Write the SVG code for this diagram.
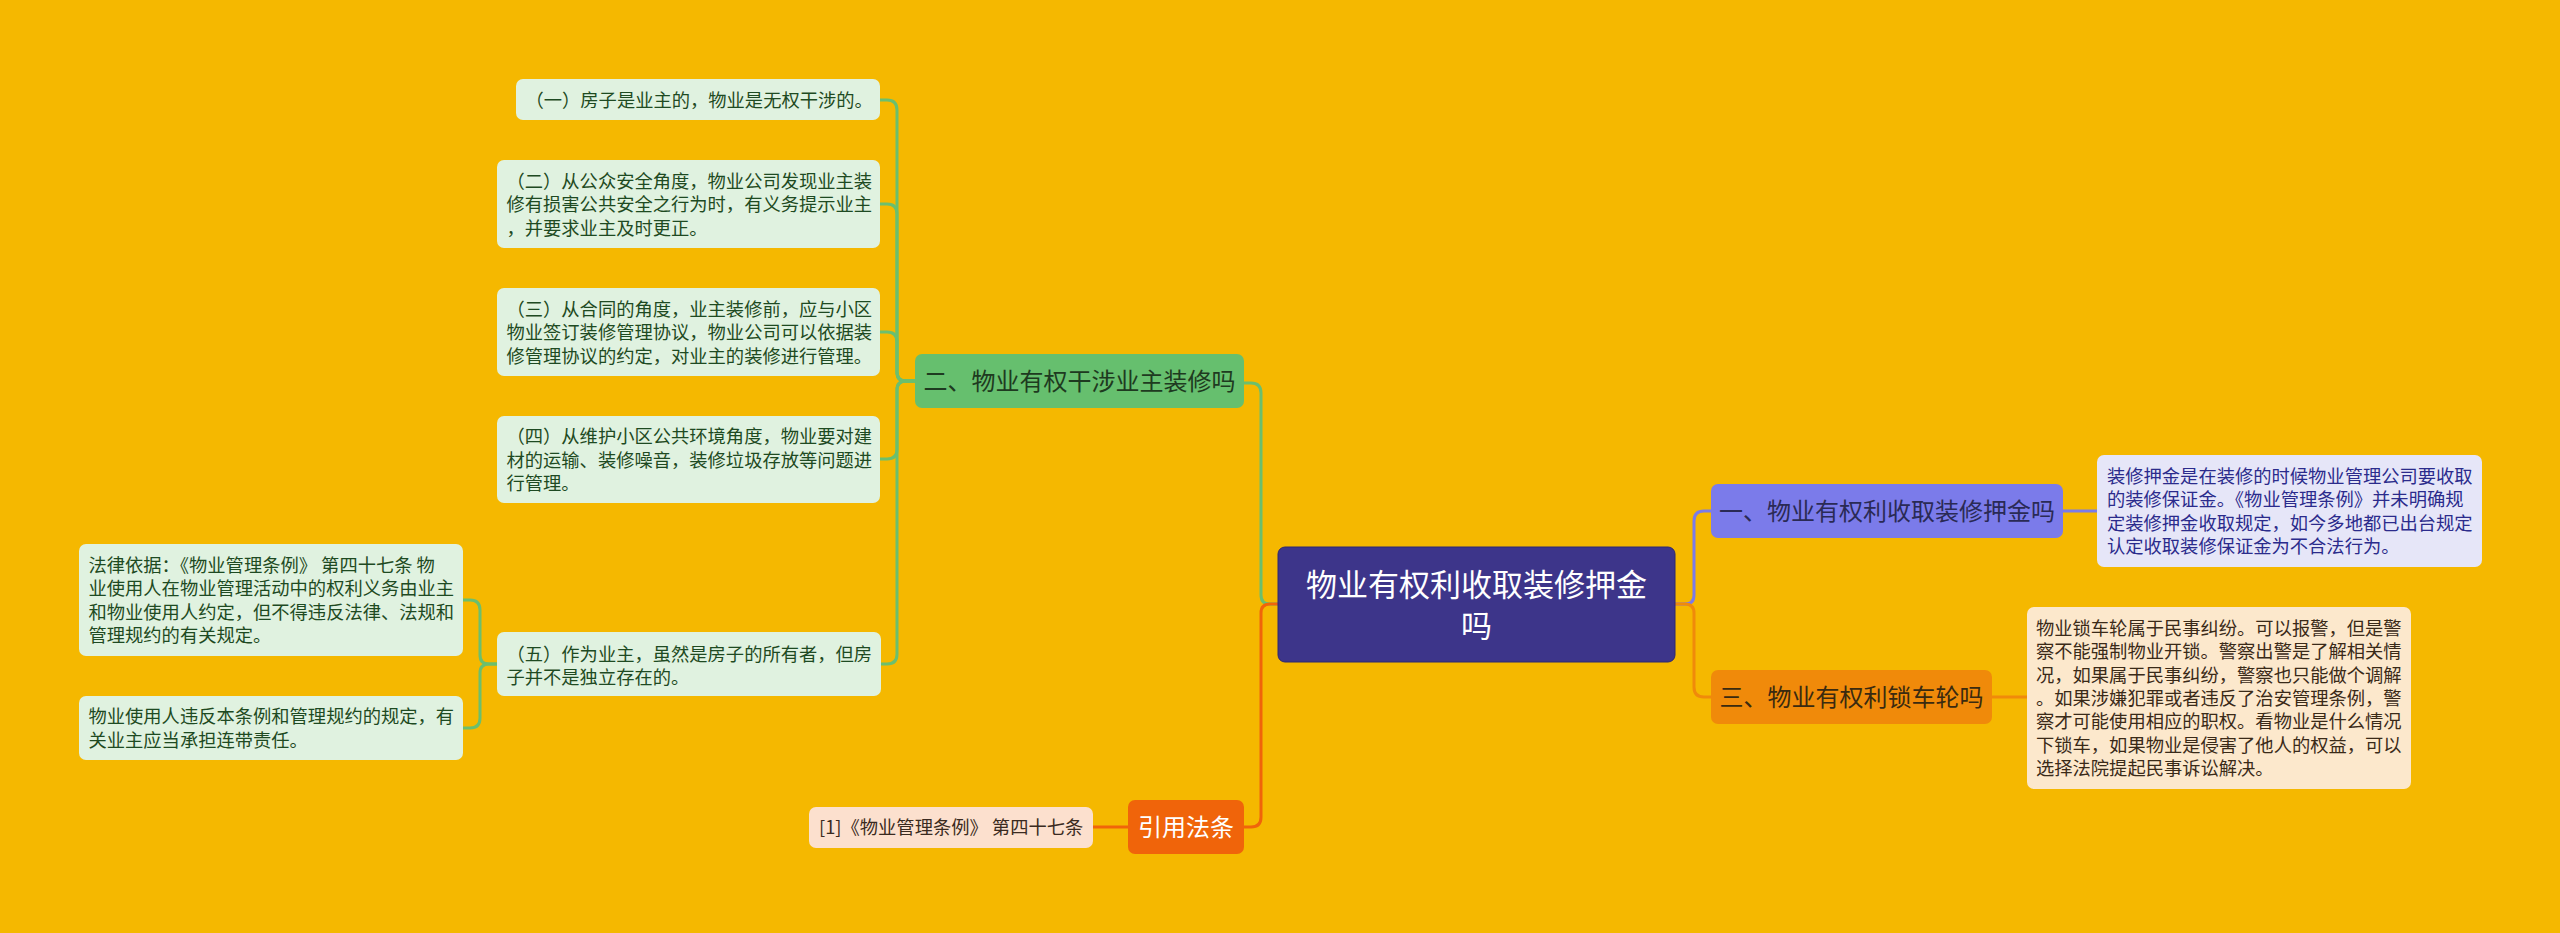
<svg xmlns="http://www.w3.org/2000/svg" width="2560" height="933" viewBox="0 0 2560 933">
<style>
text{font-family:"Noto Sans CJK SC","Noto Sans",sans-serif}
.leaf{font-size:18.3px}
.mid{font-size:24px;text-anchor:middle}
.con{fill:none;stroke-width:3;stroke-linecap:round}
.g{stroke:#6BBF6E}
.p{stroke:#7B7BE8}
.o{stroke:#F08A0A}
.r{stroke:#F0640A}
.gl{fill:#E0F2E0}
.gt{fill:#1E4A22}
</style>
<rect width="2560" height="933" fill="#F5B800"/>
<g id="connectors">
<path class="con g" d="M1278 604 H1270 Q1261 604 1261 595 V393 Q1261 383 1251 383 H1244"/>
<path class="con r" d="M1278 604 H1270 Q1261 604 1261 613 V817 Q1261 827 1251 827 H1244"/>
<path class="con p" d="M1675 604 H1685 Q1694 604 1694 595 V521 Q1694 511 1704 511 H1711"/>
<path class="con o" d="M1675 604 H1685 Q1694 604 1694 613 V687 Q1694 697 1704 697 H1711"/>
<path class="con p" d="M2063 511 H2097"/>
<path class="con o" d="M1992 697 H2027"/>
<path class="con r" d="M1128 827 H1093"/>
<path class="con g" d="M915 381 H906 Q897 381 897 372 V110 Q897 100 887 100 H880"/>
<path class="con g" d="M915 381 H906 Q897 381 897 372 V214 Q897 204 887 204 H880"/>
<path class="con g" d="M915 381 H906 Q897 381 897 372 V342 Q897 332 887 332 H880"/>
<path class="con g" d="M915 381 H906 Q897 381 897 390 V449 Q897 459 887 459 H880"/>
<path class="con g" d="M915 381 H906 Q897 381 897 390 V654 Q897 664 887 664 H880"/>
<path class="con g" d="M497 664 H489 Q480 664 480 655 V610 Q480 600 470 600 H463"/>
<path class="con g" d="M497 664 H489 Q480 664 480 673 V718 Q480 728 470 728 H463"/>
</g>
<g id="root">
<rect x="1278" y="547" width="397" height="115" rx="7" fill="#3D358A" stroke="#2E2870" stroke-width="1"/>
<text x="1476.5" y="596" font-size="31" fill="#FFFFFF" text-anchor="middle">物业有权利收取装修押金</text>
<text x="1476.5" y="637" font-size="31" fill="#FFFFFF" text-anchor="middle">吗</text>
</g>
<g id="n1">
<rect x="1711" y="484" width="352" height="54" rx="7" fill="#7B7BEA"/>
<text class="mid" x="1887" y="520" fill="#2A2A55">一、物业有权利收取装修押金吗</text>
</g>
<g id="n1-leaf">
<rect x="2097" y="455" width="385" height="112" rx="7" fill="#E6E6F8"/>
<text class="leaf" fill="#2B2B8C" x="2107" y="483">装修押金是在装修的时候物业管理公司要收取</text>
<text class="leaf" fill="#2B2B8C" x="2107" y="506.3">的装修保证金。《物业管理条例》并未明确规</text>
<text class="leaf" fill="#2B2B8C" x="2107" y="529.7">定装修押金收取规定，如今多地都已出台规定</text>
<text class="leaf" fill="#2B2B8C" x="2107" y="553">认定收取装修保证金为不合法行为。</text>
</g>
<g id="n3">
<rect x="1711" y="670" width="281" height="54" rx="7" fill="#F08A0A"/>
<text class="mid" x="1851.5" y="706" fill="#3A2A10">三、物业有权利锁车轮吗</text>
</g>
<g id="n3-leaf">
<rect x="2027" y="607" width="384" height="182" rx="7" fill="#FCE8CC"/>
<text class="leaf" fill="#3A2A18" x="2036" y="635.1">物业锁车轮属于民事纠纷。可以报警，但是警</text>
<text class="leaf" fill="#3A2A18" x="2036" y="658.4">察不能强制物业开锁。警察出警是了解相关情</text>
<text class="leaf" fill="#3A2A18" x="2036" y="681.7">况，如果属于民事纠纷，警察也只能做个调解</text>
<text class="leaf" fill="#3A2A18" x="2036" y="705">。如果涉嫌犯罪或者违反了治安管理条例，警</text>
<text class="leaf" fill="#3A2A18" x="2036" y="728.3">察才可能使用相应的职权。看物业是什么情况</text>
<text class="leaf" fill="#3A2A18" x="2036" y="751.6">下锁车，如果物业是侵害了他人的权益，可以</text>
<text class="leaf" fill="#3A2A18" x="2036" y="774.9">选择法院提起民事诉讼解决。</text>
</g>
<g id="n2">
<rect x="915" y="354" width="329" height="54" rx="7" fill="#66BF6E"/>
<text class="mid" x="1079.5" y="390" fill="#1E3A20">二、物业有权干涉业主装修吗</text>
</g>
<g id="n2-1">
<rect class="gl" x="516" y="79" width="364" height="41" rx="7"/>
<text class="leaf gt" x="525.5" y="107">（一）房子是业主的，物业是无权干涉的。</text>
</g>
<g id="n2-2">
<rect class="gl" x="497" y="160" width="383" height="88" rx="7"/>
<text class="leaf gt" x="506.5" y="187.5">（二）从公众安全角度，物业公司发现业主装</text>
<text class="leaf gt" x="506.5" y="211">修有损害公共安全之行为时，有义务提示业主</text>
<text class="leaf gt" x="506.5" y="234.5">，并要求业主及时更正。</text>
</g>
<g id="n2-3">
<rect class="gl" x="497" y="288" width="383" height="88" rx="7"/>
<text class="leaf gt" x="506.5" y="315.5">（三）从合同的角度，业主装修前，应与小区</text>
<text class="leaf gt" x="506.5" y="339">物业签订装修管理协议，物业公司可以依据装</text>
<text class="leaf gt" x="506.5" y="362.5">修管理协议的约定，对业主的装修进行管理。</text>
</g>
<g id="n2-4">
<rect class="gl" x="497" y="416" width="383" height="87" rx="7"/>
<text class="leaf gt" x="506.5" y="443">（四）从维护小区公共环境角度，物业要对建</text>
<text class="leaf gt" x="506.5" y="466.5">材的运输、装修噪音，装修垃圾存放等问题进</text>
<text class="leaf gt" x="506.5" y="490">行管理。</text>
</g>
<g id="n2-5">
<rect class="gl" x="497" y="632" width="384" height="64" rx="7"/>
<text class="leaf gt" x="506.5" y="661">（五）作为业主，虽然是房子的所有者，但房</text>
<text class="leaf gt" x="506.5" y="684">子并不是独立存在的。</text>
</g>
<g id="n2-5-a">
<rect class="gl" x="79" y="544" width="384" height="112" rx="7"/>
<text class="leaf gt" x="88.5" y="572">法律依据：《物业管理条例》 第四十七条 物</text>
<text class="leaf gt" x="88.5" y="595.3">业使用人在物业管理活动中的权利义务由业主</text>
<text class="leaf gt" x="88.5" y="618.7">和物业使用人约定，但不得违反法律、法规和</text>
<text class="leaf gt" x="88.5" y="642">管理规约的有关规定。</text>
</g>
<g id="n2-5-b">
<rect class="gl" x="79" y="696" width="384" height="64" rx="7"/>
<text class="leaf gt" x="88.5" y="723">物业使用人违反本条例和管理规约的规定，有</text>
<text class="leaf gt" x="88.5" y="746.5">关业主应当承担连带责任。</text>
</g>
<g id="n4">
<rect x="1128" y="800" width="116" height="54" rx="7" fill="#F0640A"/>
<text class="mid" x="1186" y="836" fill="#FFFFFF">引用法条</text>
</g>
<g id="n4-leaf">
<rect x="809" y="807" width="284" height="41" rx="7" fill="#FCE0CE"/>
<text class="leaf" x="819" y="834" fill="#3A2A20">[1]《物业管理条例》 第四十七条</text>
</g>
</svg>
